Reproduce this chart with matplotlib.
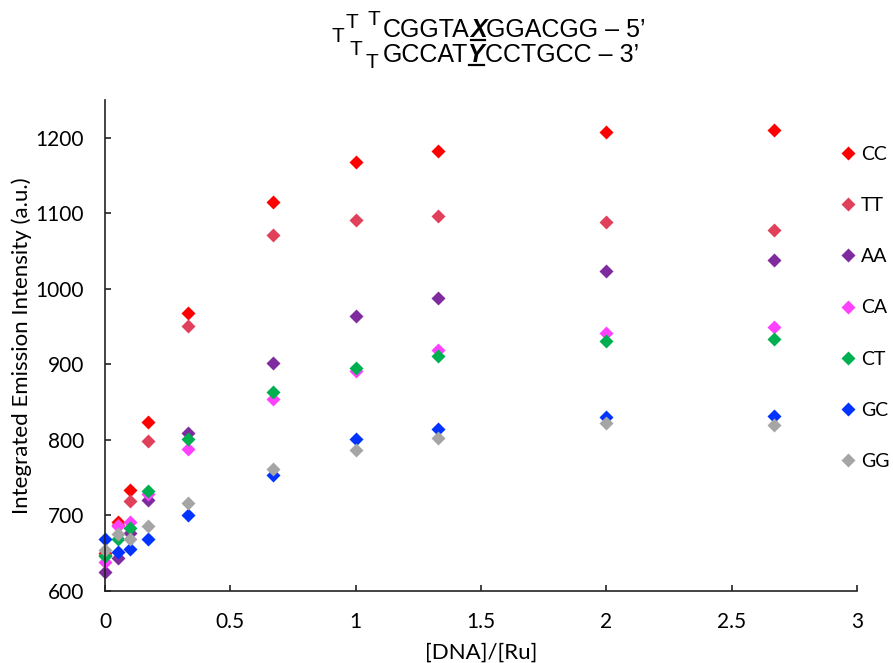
import numpy as np
import matplotlib
matplotlib.use('Agg')
from matplotlib import pyplot
from matplotlib.lines import Line2D
import matplotlib.transforms as mtransforms


#data:
ratio  = [0, 0.05, 0.1, 0.17, 0.33, 0.67, 1.0, 1.33, 2.0, 2.67]
names  = ['CC', 'TT', 'AA', 'CA', 'CT', 'GC', 'GG']
cc     = [650, 691, 734, 824, 968, 1115, 1168, 1182, 1208, 1210]
tt     = [648, 688, 719, 798, 951, 1071, 1091, 1096, 1088, 1078]
aa     = [625, 644, 677, 721, 809, 902, 964, 988, 1024, 1038]
ca     = [639, 686, 691, 728, 788, 854, 891, 919, 942, 949]
ct     = [646, 669, 684, 732, 801, 864, 895, 911, 931, 933]
gc     = [669, 652, 656, 669, 700, 753, 801, 814, 830, 832]
gg     = [654, 676, 669, 686, 717, 761, 786, 803, 822, 820]
series = [cc, tt, aa, ca, ct, gc, gg]
colors = ['#ff0000', '#e0405a', '#7f2a9e', '#ff40ff', '#00b050', '#0033ff', '#a5a5a5']


#plot:
pyplot.close('all')
fig = pyplot.figure(figsize=(8.93, 6.63), dpi=100)
ax  = fig.add_axes([105/893, 72/663, 752/893, 491/663])
for y,c,n in zip(series, colors, names):
	ax.plot(ratio, y, 'D', color=c, ms=6.8, mec='none', label=n, clip_on=False)

ax.set_xlim(0, 3)
ax.set_ylim(600, 1250)
ax.set_xticks(np.arange(0, 3.01, 0.5))
ax.set_xticklabels(['0', '0.5', '1', '1.5', '2', '2.5', '3'])
ax.set_yticks(range(600, 1201, 100))
for s in ['top', 'right']:
	ax.spines[s].set_visible(False)
for s in ['left', 'bottom']:
	ax.spines[s].set_linewidth(1.2)
	ax.spines[s].set_color('#222222')
ax.tick_params(direction='in', length=4, width=1.2, color='#222222', labelsize=15, pad=15)
for lab in ax.get_xticklabels() + ax.get_yticklabels():
	lab.set_family('Lato')
ax.set_xlabel('[DNA]/[Ru]', size=16, family='Lato')
ax.set_ylabel('Integrated Emission Intensity (a.u.)', size=16, family='Lato')
ax.xaxis.set_label_coords(0.5, -0.106)
ax.yaxis.set_label_coords(-0.097, 0.5)

leg = ax.legend(loc='upper left', bbox_to_anchor=(832/893, 1-138/663), bbox_transform=fig.transFigure,
	frameon=False, handlelength=0.8, handletextpad=0.3, labelspacing=1.76, borderaxespad=0,
	prop={'family':'Lato', 'size':14})


#hairpin title:
def px(x, y):
	return x/893, 1 - y/663

tfont = dict(family='Liberation Sans', size=18, va='baseline', ha='left')
sfont = dict(family='Liberation Sans', size=15, va='baseline', ha='left')
for (x,y) in [(331,42), (346,28), (367,25), (349,55), (366,68)]:
	fig.text(*px(x,y), 'T', **sfont)

def chain(pieces, x, y):
	out  = []
	prev = fig.text(*px(x,y), pieces[0][0], **tfont, **pieces[0][1])
	out.append(prev)
	for s,kw in pieces[1:]:
		t = ax.annotate(s, xy=(1,0), xycoords=prev, xytext=(0,0), textcoords='offset points',
			annotation_clip=False, family='Liberation Sans', size=18, va='bottom', ha='left', **kw)
		out.append(t)
		prev = t
	return out

bi = dict(weight='bold', style='italic')
line1 = chain([('CGGTA', {}), ('X', bi), ('GGACGG \u2013 5\u2019', {})], 383, 37)
line2 = chain([('GCCAT', {}), ('Y', bi), ('CCTGCC \u2013 3\u2019', {})], 383, 62)

fig.canvas.draw()
r = fig.canvas.get_renderer()
for t in [line1[1], line2[1]]:
	bb = t.get_window_extent(r)
	yb = bb.y0 + 2
	fig.add_artist(Line2D([bb.x0+1, bb.x1-1], [yb, yb], color='k', lw=1.6,
		transform=mtransforms.IdentityTransform()))

fig.savefig('out.png', dpi=100)
